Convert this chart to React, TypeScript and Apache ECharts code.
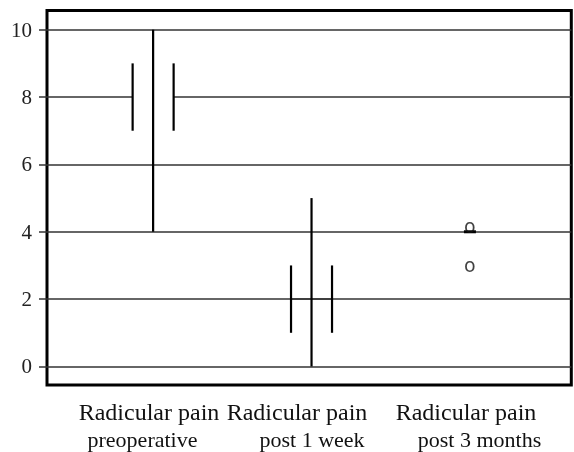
import React, { useEffect, useRef } from "react";
import * as echarts from "echarts";

// ---- data ----
const categories = ["Radicular pain", "Radicular pain", "Radicular pain"];
const subLabels = ["preoperative", "post 1 week", "post 3 months"];
const lows = [4, 0, 4];
const q1s = [7, 1, 4];
const medians = [8, 2, 4];
const q3s = [9, 3, 4];
const highs = [10, 5, 4];
const outlierCategory = [3, 3];
const outlierValues = [4.17, 3];
const yTicks = [0, 2, 4, 6, 8, 10];

const SERIF = "'Liberation Serif', 'DejaVu Serif', serif";

export default function App() {
  const ref = useRef<HTMLDivElement | null>(null);

  useEffect(() => {
    if (!ref.current) return;
    const chart = echarts.init(ref.current, null, { renderer: "svg" });

    const boxData = categories.map((_, i) => [i + 1, lows[i], q1s[i], medians[i], q3s[i], highs[i]]);
    const medianSpec = [
      { half: 20.5, color: "#ffffff", w: 3 },
      { half: 20.5, color: "#333333", w: 1.5 },
      { half: 6, color: "#000000", w: 3 },
    ];
    const halfBox = 20.5;

    const line1X = [149, 297, 466];
    const line2X = [142.5, 312, 479.5];

    const graphics: any[] = [];
    categories.forEach((c, i) => {
      graphics.push({
        type: "text",
        x: line1X[i],
        y: 412,
        style: {
          text: c,
          fontFamily: SERIF,
          fontSize: 24,
          fill: "#111",
          textAlign: "center",
          textVerticalAlign: "middle",
        },
      });
      graphics.push({
        type: "text",
        x: line2X[i],
        y: 439.5,
        style: {
          text: subLabels[i],
          fontFamily: SERIF,
          fontSize: 22,
          fill: "#111",
          textAlign: "center",
          textVerticalAlign: "middle",
        },
      });
    });

    chart.setOption({
      animation: false,
      grid: {
        left: 47,
        top: 10.5,
        right: 2.7,
        bottom: 67,
        show: true,
        borderColor: "#000",
        borderWidth: 3,
        backgroundColor: "transparent",
      },
      xAxis: {
        type: "value",
        min: 0.33,
        max: 3.64,
        axisLine: { show: false },
        axisTick: { show: false },
        axisLabel: { show: false },
        splitLine: { show: false },
      },
      yAxis: {
        type: "value",
        min: -0.55,
        max: 10.57,
        axisLine: { show: false },
        axisTick: {
          show: true,
          length: 8,
          customValues: yTicks,
          lineStyle: { color: "#333", width: 1.5 },
        },
        axisLabel: {
          customValues: yTicks,
          margin: 15,
          fontFamily: SERIF,
          fontSize: 21,
          color: "#222",
        },
        splitLine: { show: true, lineStyle: { color: "#333", width: 1.5 } },
      },
      graphic: graphics,
      series: [
        {
          type: "custom",
          clip: false,
          data: boxData,
          encode: { x: 0, y: [1, 2, 3, 4, 5] },
          renderItem: (params: any, api: any) => {
            const i = params.dataIndex;
            const x = api.value(0);
            const pLow = api.coord([x, api.value(1)]);
            const pQ1 = api.coord([x, api.value(2)]);
            const pMed = api.coord([x, api.value(3)]);
            const pQ3 = api.coord([x, api.value(4)]);
            const pHigh = api.coord([x, api.value(5)]);
            const cx = pLow[0];
            const m = medianSpec[i];
            const children: any[] = [
              {
                type: "line",
                shape: { x1: cx - m.half, y1: pMed[1], x2: cx + m.half, y2: pMed[1] },
                style: { stroke: m.color, lineWidth: m.w },
              },
            ];
            if (pLow[1] !== pHigh[1]) {
              children.push({
                type: "line",
                shape: { x1: cx, y1: pLow[1], x2: cx, y2: pHigh[1] },
                style: { stroke: "#000", lineWidth: 2.2 },
              });
            }
            if (pQ1[1] !== pQ3[1]) {
              children.push({
                type: "line",
                shape: { x1: cx - halfBox, y1: pQ1[1], x2: cx - halfBox, y2: pQ3[1] },
                style: { stroke: "#000", lineWidth: 2.2 },
              });
              children.push({
                type: "line",
                shape: { x1: cx + halfBox, y1: pQ1[1], x2: cx + halfBox, y2: pQ3[1] },
                style: { stroke: "#000", lineWidth: 2.2 },
              });
            }
            return { type: "group", children };
          },
        },
        {
          type: "scatter",
          symbolSize: 0,
          data: outlierCategory.map((c, i) => [c, outlierValues[i]]),
          label: {
            show: true,
            position: "inside",
            formatter: () => "o",
            fontFamily: "DejaVu Sans",
            fontSize: 19,
            color: "#111",
          },
        },
      ],
    });

    return () => chart.dispose();
  }, []);

  return (
    <div
      ref={ref}
      style={{ position: "fixed", left: 0, top: 0, width: 574, height: 452 }}
    />
  );
}
